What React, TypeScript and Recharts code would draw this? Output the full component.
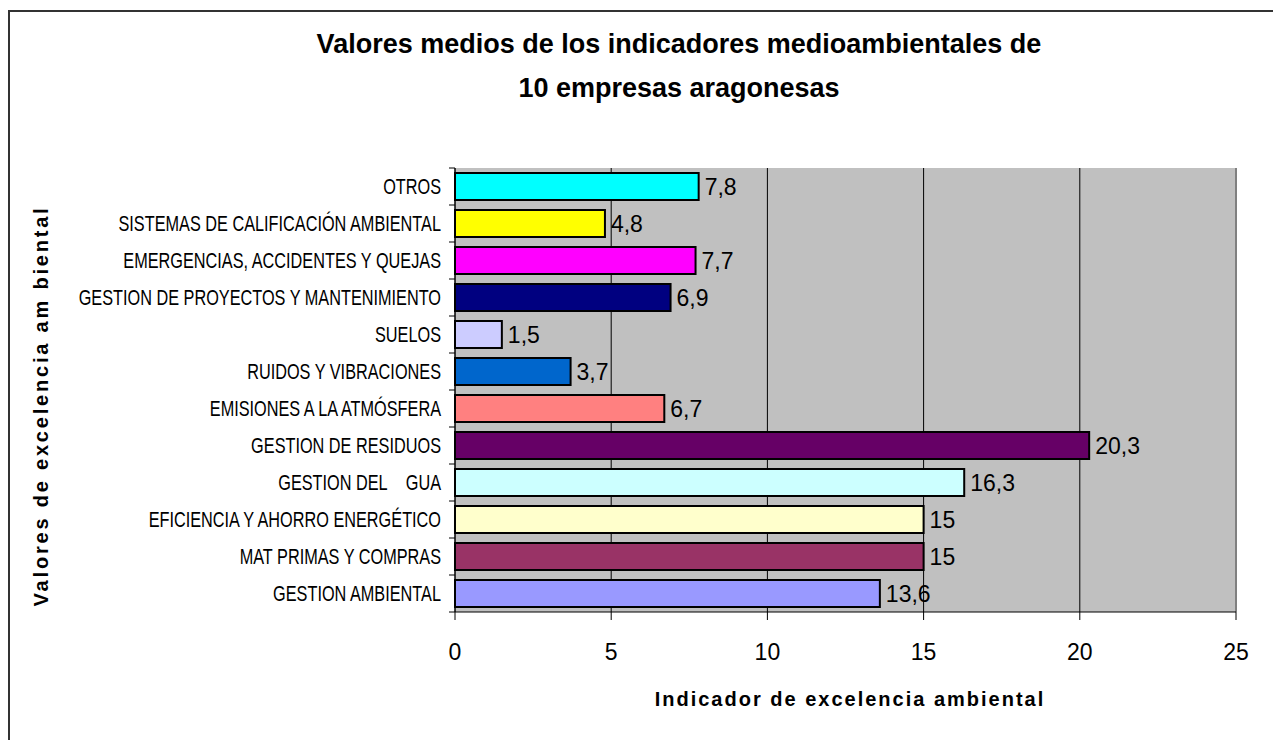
import { Bar, BarChart, CartesianGrid, Cell, LabelList, ReferenceLine, XAxis, YAxis } from "recharts";

const categorias = [
  "OTROS",
  "SISTEMAS DE CALIFICACIÓN AMBIENTAL",
  "EMERGENCIAS, ACCIDENTES Y QUEJAS",
  "GESTION DE PROYECTOS Y MANTENIMIENTO",
  "SUELOS",
  "RUIDOS Y VIBRACIONES",
  "EMISIONES A LA ATMÓSFERA",
  "GESTION DE RESIDUOS",
  "GESTION DEL\u00a0\u00a0\u00a0\u00a0GUA",
  "EFICIENCIA Y AHORRO ENERGÉTICO",
  "MAT PRIMAS Y COMPRAS",
  "GESTION AMBIENTAL",
];
const valores = [7.8, 4.8, 7.7, 6.9, 1.5, 3.7, 6.7, 20.3, 16.3, 15, 15, 13.6];
const colores = [
  "#00FFFF",
  "#FFFF00",
  "#FF00FF",
  "#000080",
  "#CCCCFF",
  "#0066CC",
  "#FF8080",
  "#660066",
  "#CCFFFF",
  "#FFFFCC",
  "#993366",
  "#9999FF",
];
const ticksX = [0, 5, 10, 15, 20, 25];

const data = categorias.map((name, i) => ({ name, value: valores[i] }));

const W = 1273;
const H = 740;
const MARGIN = { top: 168, right: 37, bottom: 78, left: 0 };
const X_AXIS_H = 50;
const PLOT_H = H - MARGIN.top - MARGIN.bottom - X_AXIS_H;
const BAND = PLOT_H / categorias.length;
const TICK_SIZE = 6;
const TICK_MARGIN = 8;

const font = "'Liberation Sans', Arial, sans-serif";

// Excel pinta las etiquetas con Arial comprimida; se imita escalando en horizontal
function CategoryTick(props: any) {
  const { x, y, payload, index } = props;
  const axisX = x + TICK_MARGIN + TICK_SIZE;
  return (
    <g>
      <text
        transform={`translate(${x},${y}) scale(0.74,1)`}
        textAnchor="end"
        dominantBaseline="central"
        fontFamily={font}
        fontSize={22}
        fill="#000"
      >
        {payload.value}
      </text>
      <line x1={axisX - TICK_SIZE} x2={axisX} y1={y - BAND / 2} y2={y - BAND / 2} stroke="#000" />
      {index === categorias.length - 1 && (
        <line x1={axisX - TICK_SIZE} x2={axisX} y1={y + BAND / 2} y2={y + BAND / 2} stroke="#000" />
      )}
    </g>
  );
}

export default function App() {
  return (
    <div style={{ position: "absolute", left: 0, top: 0, width: W, height: H, background: "#fff", overflow: "hidden" }}>
      <div
        style={{
          position: "absolute",
          left: 8,
          top: 10,
          width: W - 8,
          height: H - 10,
          boxSizing: "border-box",
          borderLeft: "2px solid #333",
          borderTop: "2px solid #333",
        }}
      />
      <div style={{ position: "absolute", left: 0, top: 0 }}>
        <BarChart width={W} height={H} data={data} layout="vertical" margin={MARGIN} barSize={27}>
          <CartesianGrid horizontal={false} stroke="#000" fill="#C0C0C0" />
          <XAxis
            type="number"
            domain={[0, 25]}
            ticks={ticksX}
            height={X_AXIS_H}
            axisLine={{ stroke: "#000" }}
            tickLine={{ stroke: "#000" }}
            tickSize={8}
            tickMargin={24}
            tick={{ fill: "#000", fontSize: 23, fontFamily: font }}
          />
          <YAxis
            type="category"
            dataKey="name"
            width={455}
            axisLine={{ stroke: "#000" }}
            tickLine={false}
            tickSize={TICK_SIZE}
            tickMargin={TICK_MARGIN}
            interval={0}
            tick={<CategoryTick />}
          />
          <ReferenceLine x={25} stroke="#808080" strokeWidth={2} />
          <Bar dataKey="value" stroke="#000" strokeWidth={2} isAnimationActive={false}>
            {data.map((d, i) => (
              <Cell key={d.name} fill={colores[i]} />
            ))}
            <LabelList
              dataKey="value"
              position="right"
              offset={6}
              fill="#000"
              fontSize={23}
              fontFamily={font}
              formatter={(v: any) => String(v).replace(".", ",")}
            />
          </Bar>
        </BarChart>
      </div>
      <svg width={W} height={H} style={{ position: "absolute", left: 0, top: 0, pointerEvents: "none" }}>
        <text x={679} y={53} textAnchor="middle" fontFamily={font} fontWeight="bold" fontSize={27} fill="#000">
          Valores medios de los indicadores medioambientales de
        </text>
        <text x={679} y={97} textAnchor="middle" fontFamily={font} fontWeight="bold" fontSize={27} fill="#000">
          10 empresas aragonesas
        </text>
        <text
          x={850}
          y={706}
          textAnchor="middle"
          fontFamily={font}
          fontWeight="bold"
          fontSize={20}
          letterSpacing={2}
          fill="#000"
        >
          Indicador de excelencia ambiental
        </text>
        <text
          transform="translate(48,406) rotate(-90)"
          textAnchor="middle"
          fontFamily={font}
          fontWeight="bold"
          fontSize={20}
          letterSpacing={2.8}
          fill="#000"
        >
          Valores de excelencia am biental
        </text>
      </svg>
    </div>
  );
}
